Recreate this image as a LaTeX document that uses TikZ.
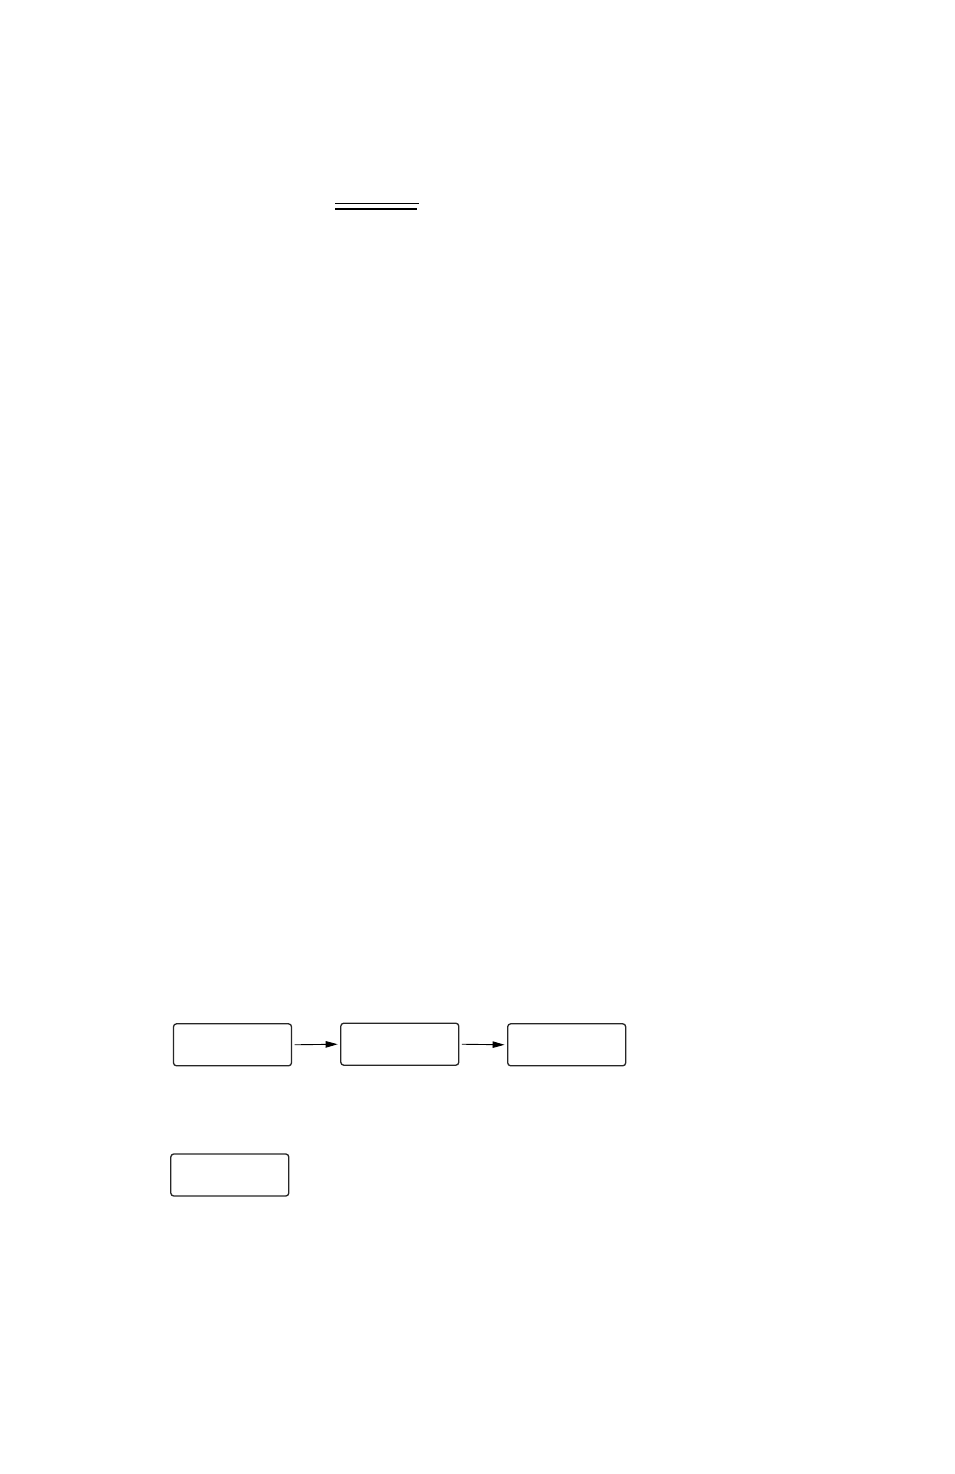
\documentclass[tikz,border=0pt]{standalone}
\usetikzlibrary{arrows.meta}
\begin{document}
\begin{tikzpicture}[x=1pt,y=-1pt,
  blk/.style={draw=black!85,line width=1.3pt,rounded corners=3pt,minimum width=118pt,minimum height=42pt,inner sep=0pt},
  conn/.style={line width=0.9pt,-{Triangle[length=12pt,width=6.5pt]},shorten <=2.5pt,shorten >=2.5pt}]
\useasboundingbox (0,0) rectangle (954,1474);
\fill[white] (0,0) rectangle (954,1474);
\coordinate (la) at (335,203.3);
\coordinate (lb) at (419,203.3);
\coordinate (lc) at (335,208.7);
\coordinate (ld) at (417,208.7);
\draw[line width=1pt] (la) -- (lb);
\draw[line width=2pt] (lc) -- (ld);
\node[blk] (b1) at (232.5,1044.8) {};
\node[blk] (b2) at (399.8,1044.2) {};
\node[blk] (b3) at (566.7,1044.8) {};
\node[blk] (b4) at (229.8,1175) {};
\draw[conn] (b1.east) -- (b2.west);
\draw[conn] (b2.east) -- (b3.west);
\end{tikzpicture}
\end{document}
